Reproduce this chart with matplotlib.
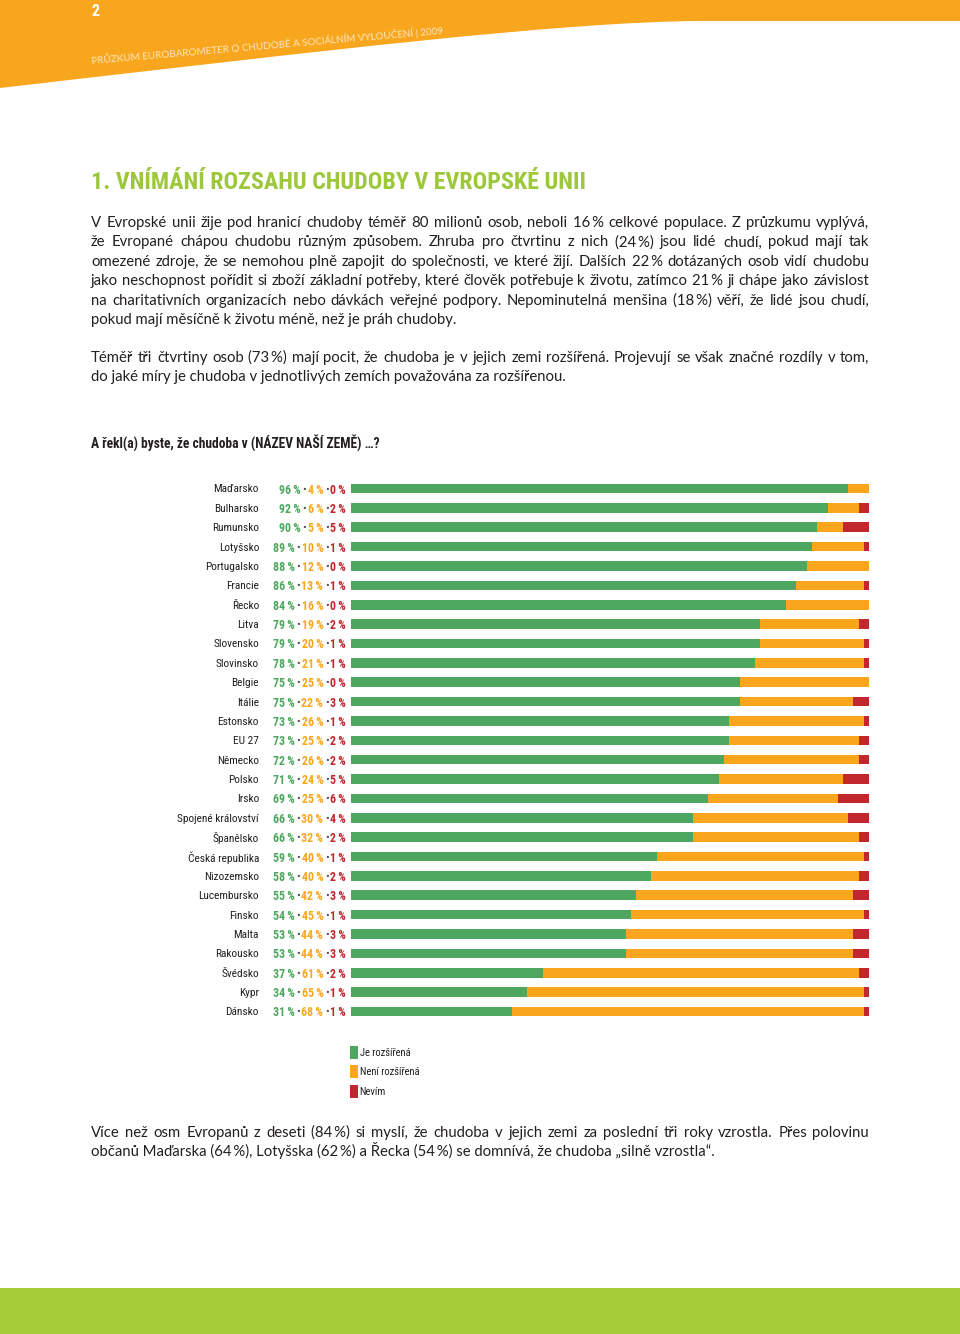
import os
import matplotlib
matplotlib.use('Agg')
import matplotlib.pyplot as plt
from matplotlib import font_manager as fm
from matplotlib.font_manager import FontProperties
from matplotlib.patches import Rectangle, PathPatch
from matplotlib.path import Path
import matplotlib.transforms as mtransforms
import numpy as np

# ---------------- data ----------------
countries = ["Maďarsko", "Bulharsko", "Rumunsko", "Lotyšsko", "Portugalsko", "Francie",
             "Řecko", "Litva", "Slovensko", "Slovinsko", "Belgie", "Itálie", "Estonsko",
             "EU 27", "Německo", "Polsko", "Irsko", "Spojené království", "Španělsko",
             "Česká republika", "Nizozemsko", "Lucembursko", "Finsko", "Malta", "Rakousko",
             "Švédsko", "Kypr", "Dánsko"]
je_rozsirena = [96, 92, 90, 89, 88, 86, 84, 79, 79, 78, 75, 75, 73, 73, 72, 71, 69, 66, 66,
                59, 58, 55, 54, 53, 53, 37, 34, 31]
neni_rozsirena = [4, 6, 5, 10, 12, 13, 16, 19, 20, 21, 25, 22, 26, 25, 26, 24, 25, 30, 32,
                  40, 40, 42, 45, 44, 44, 61, 65, 68]
nevim = [0, 2, 5, 1, 0, 1, 0, 2, 1, 1, 0, 3, 1, 2, 2, 5, 6, 4, 2, 1, 2, 3, 1, 3, 3, 2, 1, 1]
legend_labels = ["Je rozšířená", "Není rozšířená", "Nevím"]

header_text = "PRŮZKUM EUROBAROMETER O CHUDOBĚ A SOCIÁLNÍM VYLOUČENÍ | 2009"
title_text = "1. VNÍMÁNÍ ROZSAHU CHUDOBY V EVROPSKÉ UNII"
question_text = "A řekl(a) byste, že chudoba v (NÁZEV NAŠÍ ZEMĚ) …?"
par1 = ["V Evropské unii žije pod hranicí chudoby téměř 80 milionů osob, neboli 16~% celkové populace. Z průzkumu vyplývá,",
        "že Evropané chápou chudobu různým způsobem. Zhruba pro čtvrtinu z nich (24~%) jsou lidé chudí, pokud mají tak",
        "omezené zdroje, že se nemohou plně zapojit do společnosti, ve které žijí. Dalších 22~% dotázaných osob vidí chudobu",
        "jako neschopnost pořídit si zboží základní potřeby, které člověk potřebuje k životu, zatímco 21~% ji chápe jako závislost",
        "na charitativních organizacích nebo dávkách veřejné podpory. Nepominutelná menšina (18~%) věří, že lidé jsou chudí,",
        "pokud mají měsíčně k životu méně, než je práh chudoby."]
par2 = ["Téměř tři čtvrtiny osob (73~%) mají pocit, že chudoba je v jejich zemi rozšířená. Projevují se však značné rozdíly v tom,",
        "do jaké míry je chudoba v jednotlivých zemích považována za rozšířenou."]
par3 = ["Více než osm Evropanů z deseti (84~%) si myslí, že chudoba v jejich zemi za poslední tři roky vzrostla. Přes polovinu",
        "občanů Maďarska (64~%), Lotyšska (62~%) a Řecka (54~%) se domnívá, že chudoba „silně vzrostla“."]

# ---------------- styles ----------------
GREEN = "#4ea75e"
ORANGE = "#f9a61c"
RED = "#c1272d"
HEAD_ORANGE = "#f8a61d"
TITLE_GREEN = "#9ec83c"
FOOT_GREEN = "#a6cd39"
TEXT = "#231f20"
THIN = "\u2009"


def pick_condensed():
    cands = [("Liberation Sans Narrow", "normal"), ("Roboto Condensed", "normal"),
             ("Noto Sans", "condensed"), ("Open Sans", "condensed"),
             ("DejaVu Sans", "condensed"), ("Noto Sans Condensed", "normal"),
             ("Open Sans Condensed", "normal")]
    for fam, st in cands:
        try:
            p = fm.findfont(FontProperties(family=fam, stretch=st), fallback_to_default=False)
        except Exception:
            continue
        b = os.path.basename(p).lower()
        if "narrow" in b or "cond" in b:
            return fam, st
    return None


cond = pick_condensed()
if cond:
    CFAM, CST = [cond[0], "DejaVu Sans"], cond[1]
else:
    CFAM, CST = ["Liberation Sans", "DejaVu Sans"], "normal"
BFAM = ["Lato", "DejaVu Sans"]


def cfp(size, weight="normal"):
    return FontProperties(family=CFAM, stretch=CST, weight=weight, size=size)


fig = plt.figure(figsize=(9.6, 13.34), dpi=100)
page = fig.add_axes([0, 0, 1, 1])
page.set_xlim(0, 960)
page.set_ylim(1334, 0)
page.axis("off")
renderer = fig.canvas.get_renderer()


def tw(s, fp):
    w, h, d = renderer.get_text_width_height_descent(s, fp, ismath=False)
    return w


def fit_size(s, fp, target, maxsize):
    f = fp.copy()
    f.set_size(10)
    size = 10 * target / tw(s, f)
    return min(size, maxsize)

# ---------------- header ----------------
verts = [(0, 0), (960, 0), (960, 21), (700, 21), (560, 22), (330, 50), (0, 88), (0, 0)]
codes = [Path.MOVETO, Path.LINETO, Path.LINETO, Path.LINETO, Path.CURVE4, Path.CURVE4,
         Path.CURVE4, Path.CLOSEPOLY]
page.add_patch(PathPatch(Path(verts, codes), facecolor=HEAD_ORANGE, edgecolor="none"))
page.text(92, 16, "2", color="white", fontproperties=cfp(11.5, "bold"), ha="left", va="baseline")
hfp = FontProperties(family=BFAM, size=10)
hfp.set_size(fit_size(header_text, hfp, 352, 8.5))
page.text(92, 64, header_text, color="#fde6bd", fontproperties=hfp, rotation=4.9,
          rotation_mode="anchor", ha="left", va="baseline")

# ---------------- title ----------------
tfp = cfp(10, "bold")
tfp.set_size(fit_size(title_text, tfp, 493, 19))
page.text(91, 189, title_text, color=TITLE_GREEN, fontproperties=tfp, ha="left", va="baseline")

# ---------------- body text ----------------
bfp = FontProperties(family=BFAM, size=10.8)
allj = par1[:-1] + par2[:-1] + par3[:-1]
mx = max(tw(l.replace("~", THIN), bfp) for l in allj)
if mx > 772:
    bfp.set_size(10.8 * 772 / mx)


def draw_par(lines, y0, lh=19.4):
    for i, line in enumerate(lines):
        y = y0 + i * lh
        words = [w.replace("~", THIN) for w in line.split(" ")]
        if i == len(lines) - 1:
            page.text(91, y, " ".join(words), fontproperties=bfp, color=TEXT,
                      ha="left", va="baseline")
            continue
        widths = [tw(w, bfp) for w in words]
        gap = (778 - sum(widths)) / (len(words) - 1)
        x = 91
        for w, wd in zip(words, widths):
            page.text(x, y, w, fontproperties=bfp, color=TEXT, ha="left", va="baseline")
            x += wd + gap


draw_par(par1, 227)
draw_par(par2, 362)
draw_par(par3, 1137)

qfp = cfp(10, "bold")
qfp.set_size(fit_size(question_text, qfp, 289, 10.5))
page.text(91, 448, question_text, fontproperties=qfp, color=TEXT, ha="left", va="baseline")

# ---------------- bar chart ----------------
n = len(countries)
row0, row_step = 488.5, 19.37
top = row0 - row_step / 2
bottom = row0 + (n - 1) * row_step + row_step / 2
bax = fig.add_axes([351 / 960, 1 - bottom / 1334, (869 - 351) / 960, (bottom - top) / 1334])
bax.axis("off")
rows = np.arange(n)
je = np.array(je_rozsirena)
ne = np.array(neni_rozsirena)
nv = np.array(nevim)
bh = 9.6 / row_step
bax.barh(rows, je, height=bh, color=GREEN, linewidth=0)
bax.barh(rows, ne, left=je, height=bh, color=ORANGE, linewidth=0)
bax.barh(rows, nv, left=je + ne, height=bh, color=RED, linewidth=0)
bax.set_xlim(0, 100)
bax.set_ylim(n - 0.5, -0.5)

trans = mtransforms.blended_transform_factory(page.transData, bax.transData)
lfp = cfp(8.2) if cond else cfp(7.4)
pfp = cfp(8.6, "bold") if cond else cfp(7.6, "bold")
bulfp = cfp(8.0)
for i in range(n):
    page.text(259, i, countries[i], transform=trans, fontproperties=lfp, color=TEXT,
              ha="right", va="center_baseline")
    parts = [(f"{je[i]}{THIN}%", GREEN, pfp), ("•", "#4d4d4d", bulfp),
             (f"{ne[i]}{THIN}%", ORANGE, pfp), ("•", "#4d4d4d", bulfp),
             (f"{nv[i]}{THIN}%", RED, pfp)]
    x = 346
    for s, c, fp in reversed(parts):
        page.text(x, i, s, transform=trans, fontproperties=fp, color=c,
                  ha="right", va="center_baseline")
        x -= tw(s, fp) + 1.6

# ---------------- legend ----------------
legfp = cfp(7.6) if cond else cfp(7.0)
for k, (lab, col) in enumerate(zip(legend_labels, [GREEN, ORANGE, RED])):
    yc = 1052.5 + k * 19.4
    page.add_patch(Rectangle((350, yc - 6.5), 7.5, 13, facecolor=col, edgecolor="none"))
    page.text(359.5, yc + 3.5, lab, fontproperties=legfp, color=TEXT, ha="left", va="baseline")

# ---------------- footer ----------------
page.add_patch(Rectangle((0, 1288), 960, 46, facecolor=FOOT_GREEN, edgecolor="none"))

fig.savefig("out.png", dpi=100)
